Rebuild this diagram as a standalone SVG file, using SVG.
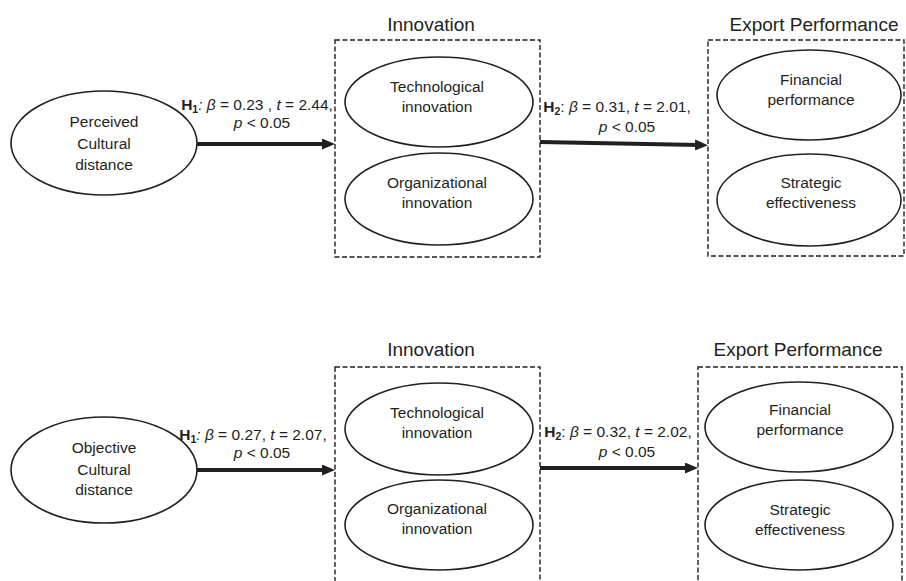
<svg xmlns="http://www.w3.org/2000/svg" width="906" height="581" viewBox="0 0 906 581">
<defs>
<style>
text{font-family:"Liberation Sans",Arial,sans-serif;fill:#231f20}
.lbl{font-size:15.5px;text-anchor:middle}
.ttl{font-size:19px;text-anchor:middle}
.eq{font-size:15.5px;text-anchor:middle}
.b{font-weight:bold}
.i{font-style:italic}
.sub{font-size:10.5px;font-weight:bold}
ellipse{fill:#fff;stroke:#231f20;stroke-width:1.6}
.box{fill:none;stroke:#231f20;stroke-width:1.4;stroke-dasharray:5 2.5}
.arr{stroke:#231f20;stroke-width:4;fill:none}
</style>
<marker id="ah" markerWidth="13" markerHeight="11" refX="4" refY="5.5" orient="auto" markerUnits="userSpaceOnUse"><path d="M0,0 L13,5.5 L0,11 z" fill="#231f20"/></marker>
</defs>

<g id="innovation-box-top"><rect class="box" x="335" y="40" width="205" height="217"/><text class="ttl" x="431" y="31">Innovation</text></g>
<g id="export-box-top"><rect class="box" x="708" y="40" width="196" height="216"/><text class="ttl" x="814" y="31">Export Performance</text></g>
<g id="innovation-box-bottom"><rect class="box" x="335" y="367" width="205" height="240"/><text class="ttl" x="431" y="356">Innovation</text></g>
<g id="export-box-bottom"><rect class="box" x="698" y="367" width="204" height="240"/><text class="ttl" x="798" y="356">Export Performance</text></g>

<g id="connectors">
<line class="arr" x1="197" y1="144" x2="326" y2="144" marker-end="url(#ah)"/>
<line class="arr" x1="540" y1="142" x2="699" y2="145" marker-end="url(#ah)"/>
<line class="arr" x1="197" y1="470" x2="326" y2="470" marker-end="url(#ah)"/>
<line class="arr" x1="540" y1="468" x2="689" y2="468" marker-end="url(#ah)"/>
</g>

<g id="perceived">
<ellipse cx="104" cy="143" rx="93" ry="52"/>
<text class="lbl" x="104" y="127">Perceived</text>
<text class="lbl" x="104" y="149">Cultural</text>
<text class="lbl" x="104" y="170">distance</text>
</g>
<g id="tech-top"><ellipse cx="439" cy="102" rx="94" ry="45"/><text class="lbl" x="437" y="92">Technological</text><text class="lbl" x="437" y="112">innovation</text></g>
<g id="org-top"><ellipse cx="439" cy="199" rx="94" ry="46"/><text class="lbl" x="437" y="188">Organizational</text><text class="lbl" x="437" y="208">innovation</text></g>
<g id="fin-top"><ellipse cx="809" cy="95" rx="92" ry="45"/><text class="lbl" x="811" y="85">Financial</text><text class="lbl" x="811" y="105">performance</text></g>
<g id="strat-top"><ellipse cx="809" cy="200" rx="92" ry="46"/><text class="lbl" x="811" y="188">Strategic</text><text class="lbl" x="811" y="208">effectiveness</text></g>

<g id="objective">
<ellipse cx="104" cy="470" rx="93" ry="53"/>
<text class="lbl" x="104" y="453">Objective</text>
<text class="lbl" x="104" y="475">Cultural</text>
<text class="lbl" x="104" y="495">distance</text>
</g>
<g id="tech-bottom"><ellipse cx="439" cy="429" rx="94" ry="46"/><text class="lbl" x="437" y="418">Technological</text><text class="lbl" x="437" y="438">innovation</text></g>
<g id="org-bottom"><ellipse cx="439" cy="525" rx="94" ry="45"/><text class="lbl" x="437" y="514">Organizational</text><text class="lbl" x="437" y="534">innovation</text></g>
<g id="fin-bottom"><ellipse cx="799" cy="427" rx="94" ry="45"/><text class="lbl" x="800" y="415">Financial</text><text class="lbl" x="800" y="435">performance</text></g>
<g id="strat-bottom"><ellipse cx="799" cy="525" rx="94" ry="45"/><text class="lbl" x="800" y="515">Strategic</text><text class="lbl" x="800" y="535">effectiveness</text></g>

<g id="label-h1-top">
<text class="eq" x="257" y="110"><tspan class="b">H</tspan><tspan class="sub" dy="3">1</tspan><tspan class="i" dy="-3">:</tspan> <tspan class="i">β</tspan> = 0.23 , <tspan class="i">t</tspan> = 2.44,</text>
<text class="eq" x="262" y="128"><tspan class="i">p</tspan> &lt; 0.05</text>
</g>
<g id="label-h2-top">
<text class="eq" x="617" y="112"><tspan class="b">H</tspan><tspan class="sub" dy="3">2</tspan><tspan dy="-3">:</tspan> <tspan class="i">β</tspan> = 0.31, <tspan class="i">t</tspan> = 2.01,</text>
<text class="eq" x="627" y="132"><tspan class="i">p</tspan> &lt; 0.05</text>
</g>
<g id="label-h1-bottom">
<text class="eq" x="253" y="440"><tspan class="b">H</tspan><tspan class="sub" dy="3">1</tspan><tspan class="i" dy="-3">:</tspan> <tspan class="i">β</tspan> = 0.27, <tspan class="i">t</tspan> = 2.07,</text>
<text class="eq" x="262" y="458"><tspan class="i">p</tspan> &lt; 0.05</text>
</g>
<g id="label-h2-bottom">
<text class="eq" x="618" y="437"><tspan class="b">H</tspan><tspan class="sub" dy="3">2</tspan><tspan dy="-3">:</tspan> <tspan class="i">β</tspan> = 0.32, <tspan class="i">t</tspan> = 2.02,</text>
<text class="eq" x="627" y="457"><tspan class="i">p</tspan> &lt; 0.05</text>
</g>
</svg>
